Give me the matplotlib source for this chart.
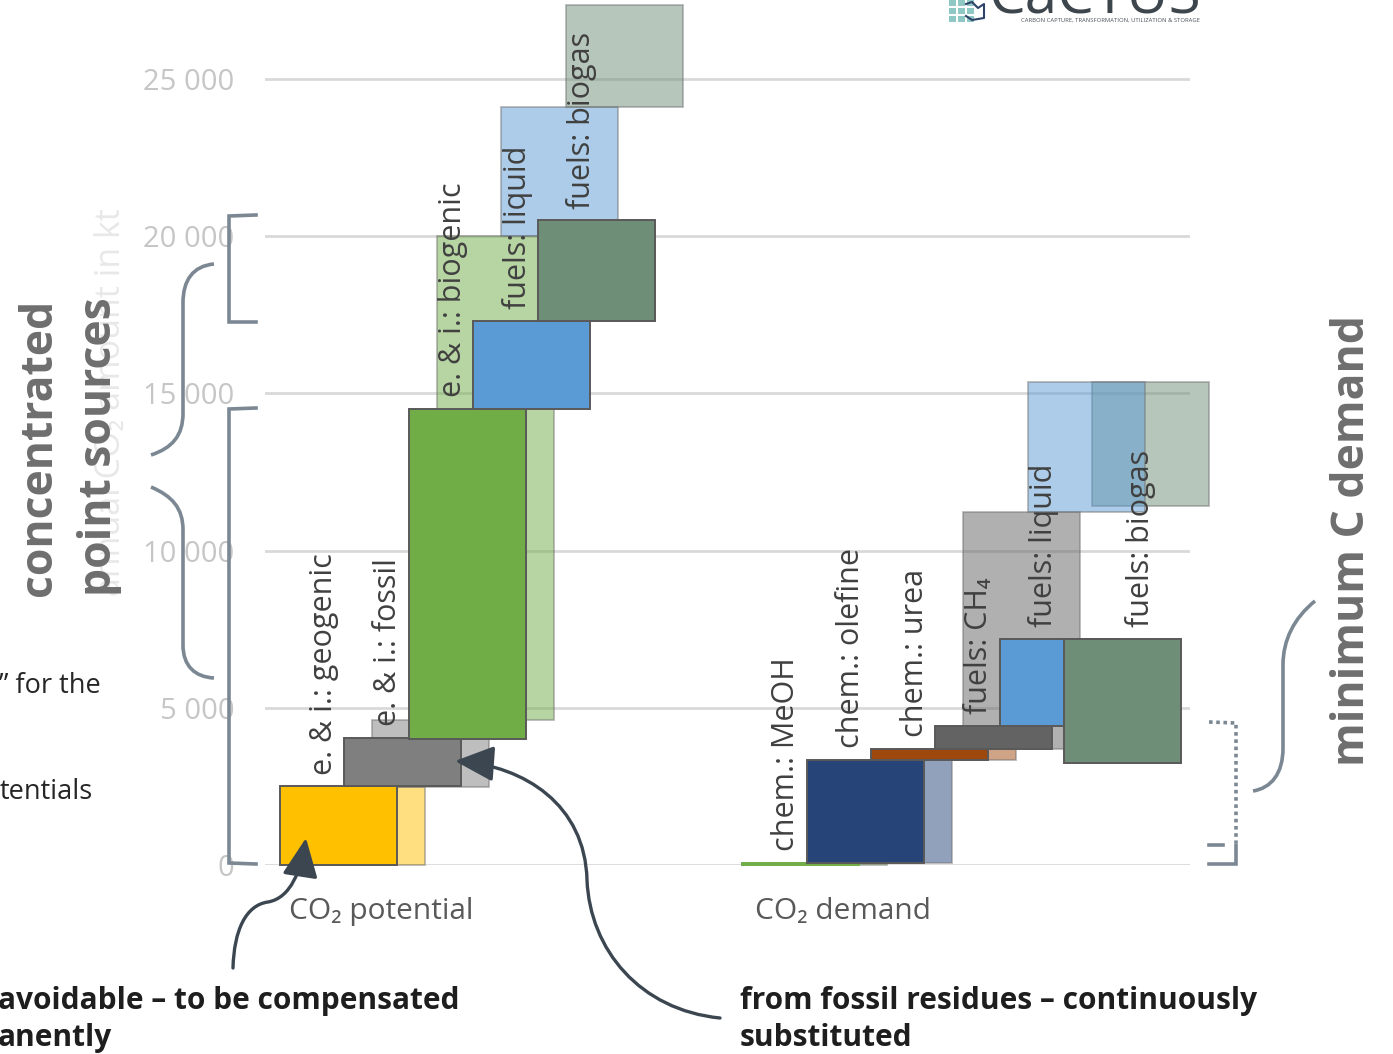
import numpy as np
import matplotlib
matplotlib.use("Agg")
import matplotlib.pyplot as plt
from matplotlib.path import Path
from matplotlib.patches import PathPatch, FancyArrowPatch, Rectangle

plt.rcParams['font.family'] = ['Open Sans', 'DejaVu Sans']

# ---------------- data (kt CO2 per year) ----------------
pot_labels = ["e. & i.: geogenic", "e. & i.: fossil", "e. & i.: biogenic",
              "fuels: liquid", "fuels: biogas"]
pot_min_bottom = [0, 2500, 4000, 14500, 17300]
pot_min_top = [2500, 4040, 14500, 17300, 20500]
pot_max_bottom = [0, 2480, 4600, 20000, 24100]
pot_max_top = [2480, 4600, 20000, 24100, 27350]
pot_colors = ['#FFC000', '#7F7F7F', '#70AD47', '#5B9BD5', '#6E8E78']

dem_labels = ["chem.: MeOH", "chem.: olefine", "chem.: urea",
              "fuels: CH\u2084", "fuels: liquid", "fuels: biogas"]
dem_min_bottom = [0, 70, 3340, 3690, 4420, 3250]
dem_min_top = [70, 3340, 3690, 4420, 7190, 7190]
dem_max_bottom = [0, 70, 3340, 3690, 11230, 11420]
dem_max_top = [70, 3340, 3690, 11230, 15360, 15360]
dem_colors = ['#70AD47', '#264478', '#9E480E', '#636363', '#5B9BD5', '#6E8E78']

group_labels = ["CO\u2082 potential", "CO\u2082 demand"]
yticks = [0, 5000, 10000, 15000, 20000, 25000]
ytick_labels = ["0", "5 000", "10 000", "15 000", "20 000", "25 000"]

# ---------------- layout ----------------
W_PX, H_PX = 1393, 1054
fig = plt.figure(figsize=(W_PX / 100, H_PX / 100), dpi=100)
ax = fig.add_axes([265 / W_PX, (H_PX - 865) / H_PX, 925 / W_PX, 864.6 / H_PX])
step_px = 64.45
ax.set_xlim(-15 / step_px, -15 / step_px + 925 / step_px)
ax.set_ylim(0, 27500)

pot_x = np.arange(len(pot_labels), dtype=float)
dem_x = 7.17 + np.arange(len(dem_labels), dtype=float)
bw = 117 / step_px
light_off = 28 / step_px
lab_off = 44 / step_px


def draw_group(xs, mnb, mnt, mxb, mxt, cols, order_light):
    mnb, mnt, mxb, mxt = map(np.asarray, (mnb, mnt, mxb, mxt))
    for i in order_light:
        ax.bar(xs[i] + light_off, mxt[i] - mxb[i], bottom=mxb[i], width=bw,
               align='edge', color=cols[i], alpha=0.5,
               edgecolor=(0.45, 0.45, 0.45, 0.55), linewidth=1.3,
               zorder=2, clip_on=False)
    for i in range(len(xs)):
        thin = (mnt[i] - mnb[i]) < 200
        ax.bar(xs[i], mnt[i] - mnb[i], bottom=mnb[i], width=bw, align='edge',
               color=cols[i], edgecolor=cols[i] if thin else '#595959',
               linewidth=1.4, zorder=3, clip_on=False)


draw_group(pot_x, pot_min_bottom, pot_min_top, pot_max_bottom, pot_max_top,
           pot_colors, range(5))
draw_group(dem_x, dem_min_bottom, dem_min_top, dem_max_bottom, dem_max_top,
           dem_colors, [0, 1, 2, 3, 5, 4])

lab_kw = dict(rotation=90, ha='center', va='bottom', fontsize=22,
              color='#404040', textcoords='offset points', zorder=6,
              annotation_clip=False)
for i, t in enumerate(pot_labels):
    ax.annotate(t, xy=(pot_x[i] + lab_off, pot_min_top[i]), xytext=(0, 8.5),
                **lab_kw)
dem_lab_x = [dem_x[i] + lab_off for i in range(5)] + [dem_x[5] + light_off + 48 / step_px]
for i, t in enumerate(dem_labels):
    ax.annotate(t, xy=(dem_lab_x[i], dem_min_top[i]), xytext=(0, 8.5),
                **lab_kw)

ax.set_yticks(yticks)
ax.set_yticklabels(ytick_labels)
ax.tick_params(axis='y', length=0, pad=22, labelsize=21, labelcolor='#C6C6C6')
ax.set_xticks([pot_x[0] + 1.57, dem_x[0] + 1.57])
ax.set_xticklabels(group_labels)
ax.tick_params(axis='x', length=0, pad=23, labelsize=21.5, labelcolor='#595959')
ax.grid(axis='y', color='#D9D9D9', linewidth=2)
ax.set_axisbelow(True)
for s in ax.spines.values():
    s.set_visible(False)
ax.patch.set_alpha(0)

# ---------------- overlay (annotations, pixel coordinates) ----------------
ov = fig.add_axes([0, 0, 1, 1], zorder=5)
ov.set_xlim(0, W_PX)
ov.set_ylim(H_PX, 0)
ov.axis('off')
ov.patch.set_alpha(0)

ov.text(111, 596, "annual CO\u2082 amount in kt", rotation=90, ha='center',
        va='bottom', fontsize=24.5, color='#E8E8E8', zorder=1)
ov.text(40, 596, "concentrated", rotation=90, ha='center', va='bottom',
        fontsize=32, fontweight='bold', color='#6E6E6E', zorder=2)
ov.text(100, 596, "point sources", rotation=90, ha='center', va='bottom',
        fontsize=32, fontweight='bold', color='#6E6E6E', zorder=2)
ov.text(1352, 766, "minimum C demand", rotation=90, ha='center', va='bottom',
        fontsize=32, fontweight='bold', color='#6E6E6E', zorder=2)

ov.text(101, 686, "\u201d for the", ha='right', va='center', fontsize=19.5,
        color='#262626')
ov.text(93, 792, "tentials", ha='right', va='center', fontsize=19.5,
        color='#262626')

bold_kw = dict(fontsize=21.5, fontweight='bold', color='#1E1E1E', va='center',
               ha='left')
ov.text(-2, 1001, "avoidable \u2013 to be compensated", **bold_kw)
ov.text(-2, 1038, "anently", **bold_kw)
ov.text(740, 1001, "from fossil residues \u2013 continuously", **bold_kw)
ov.text(740, 1038, "substituted", **bold_kw)

LC = '#7B8893'
M, C, L = Path.MOVETO, Path.CURVE4, Path.LINETO


def shape(verts, codes, **kw):
    ov.add_patch(PathPatch(Path(verts, codes), fill=False, **kw))


sk = dict(edgecolor=LC, linewidth=2.6, capstyle='butt', joinstyle='miter')
# brackets
ov.plot([256, 229, 229, 256], [215, 216, 322, 322], color=LC, lw=2.6,
        solid_joinstyle='miter')
ov.plot([256, 229, 229, 256], [408, 409, 863, 864], color=LC, lw=2.6,
        solid_joinstyle='miter')
# left curly brace
shape([(214, 264), (193, 266), (183, 280), (183, 303), (183, 413),
       (183, 436), (172, 448), (151, 455)], [M, C, C, C, L, C, C, C], **sk)
shape([(151, 487), (172, 496), (183, 508), (183, 530), (183, 645),
       (183, 666), (195, 677), (214, 678)], [M, C, C, C, L, C, C, C], **sk)
# right half brace
shape([(1315, 601), (1294, 618), (1283, 640), (1283, 665), (1283, 748),
       (1283, 774), (1271, 788), (1253, 791)], [M, C, C, C, L, C, C, C], **sk)
# dotted bracket
ov.plot([1209, 1236, 1236], [722, 723, 843], color=LC, lw=2.6, ls=(0, (1, 1)))
ov.plot([1209, 1223], [845, 845], color=LC, lw=2.6)
ov.plot([1236, 1236, 1209], [845, 864, 864], color=LC, lw=2.6,
        solid_joinstyle='miter')

# arrows
AC = '#3B4651'
arrA = FancyArrowPatch(path=Path([(233, 968), (234, 930), (246, 905), (268, 902),
                                  (291, 898), (301, 870), (306, 838)],
                                 [M, C, C, C, C, C, C]),
                       arrowstyle='-|>,head_length=1.2,head_width=0.55',
                       mutation_scale=20, color=AC, linewidth=2.4)
ov.add_patch(arrA)
arrB = FancyArrowPatch(path=Path([(720, 1018), (640, 1010), (590, 950), (587, 880),
                                  (585, 805), (525, 766), (455, 761)],
                                 [M, C, C, C, C, C, C]),
                       arrowstyle='-|>,head_length=1.2,head_width=0.55',
                       mutation_scale=20, color=AC, linewidth=2.4)
ov.add_patch(arrB)

# logo (top right, partly cut off by the image edge as in the source)
for r in range(3):
    for c in range(3):
        ov.add_patch(Rectangle((949 + c * 9, 0 + r * 8), 7, 6,
                               color='#8FC7C4', lw=0))
ov.plot([966, 972, 978, 984, 984, 972, 966], [4, 2, 8, 4, 18, 20, 16],
        color='#2F4468', lw=1.5)
ov.text(989, 14, "CaCTUS", fontsize=42, color='#3E464D', ha='left',
        va='baseline', fontweight='normal')
ov.text(1200, 22, "CARBON CAPTURE, TRANSFORMATION, UTILIZATION & STORAGE",
        fontsize=4.2, color='#4A5058', ha='right', va='baseline')

fig.savefig("out.png", dpi=100)
